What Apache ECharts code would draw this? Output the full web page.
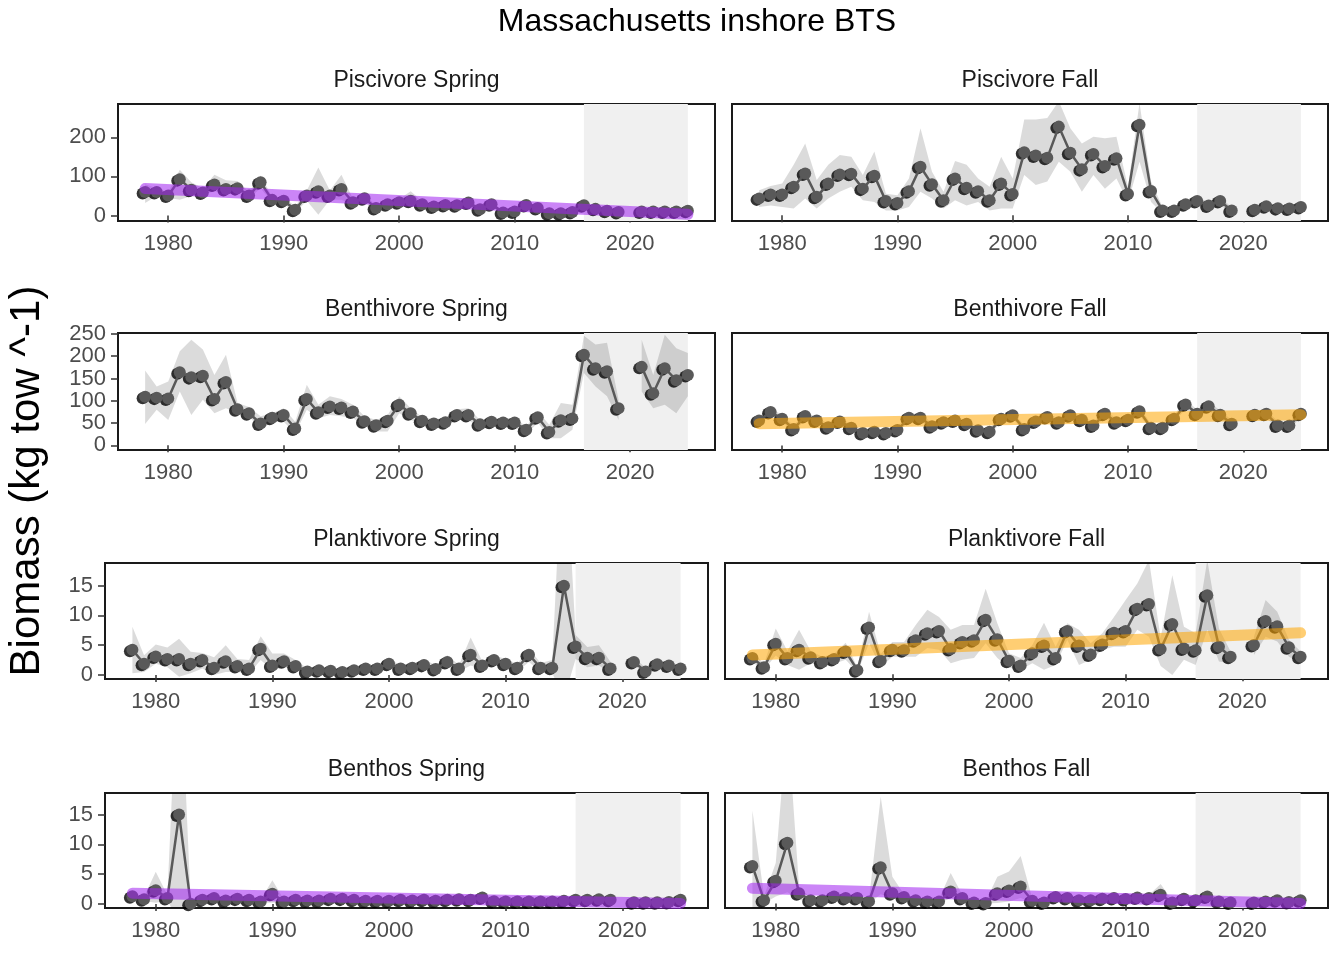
<!DOCTYPE html>
<html>
<head>
<meta charset="utf-8">
<title>Massachusetts inshore BTS</title>
<script src="https://cdn.jsdelivr.net/npm/echarts@6/dist/echarts.min.js"></script>
<style>
  html, body { margin: 0; padding: 0; background: #fff; }
  #chart { width: 1344px; height: 960px; }
</style>
</head>
<body>
<div id="chart"></div>
<script>
// survey years (2020 has no survey)
const years = [1978, 1979, 1980, 1981, 1982, 1983, 1984, 1985, 1986, 1987, 1988, 1989,
  1990, 1991, 1992, 1993, 1994, 1995, 1996, 1997, 1998, 1999,
  2000, 2001, 2002, 2003, 2004, 2005, 2006, 2007, 2008, 2009,
  2010, 2011, 2012, 2013, 2014, 2015, 2016, 2017, 2018, 2019,
  2020, 2021, 2022, 2023, 2024, 2025];
const xTickYears = [1980, 1990, 2000, 2010, 2020];
const shadeYears = [2016, 2025];
const trendYears = [1978, 2025];

// Piscivore Spring
const pisSprVal = [60, 60, 51, 93, 66, 59, 79, 68, 70, 51, 85, 40,
  38, 15, 51, 62, 51, 68, 34, 44, 19, 29,
  34, 38, 29, 23, 27, 26, 33, 16, 29, 8,
  10, 27, 19, 6, 6, 9, 26, 17, 12, 9,
  null, 10, 10, 10, 10, 12];
const pisSprLo = [32, 50, 45, 40, 50, 52, 62, 55, 57, 44, 70, 33,
  30, 8, 38, 2, 40, 40, 27, 36, 13, 22,
  27, 22, 22, 17, 21, 20, 26, 11, 22, 4,
  6, 20, 13, 3, 3, 5, 19, 12, 8, 5,
  null, 6, 6, 6, 6, 8];
const pisSprHi = [80, 70, 60, 117, 85, 70, 104, 90, 88, 60, 102, 48,
  46, 24, 64, 123, 64, 104, 42, 53, 26, 36,
  42, 62, 36, 30, 33, 32, 40, 22, 36, 12,
  15, 34, 25, 10, 10, 13, 33, 23, 17, 13,
  null, 14, 14, 14, 14, 17];
const pisSprTrend = [69, 3];

// Piscivore Fall
const pisFalVal = [43, 53, 53, 73, 107, 47, 81, 104, 106, 68, 101, 36,
  31, 61, 124, 79, 38, 94, 70, 61, 38, 81,
  54, 161, 153, 147, 227, 160, 118, 157, 126, 146,
  54, 232, 62, 12, 12, 28, 36, 25, 36, 12,
  null, 14, 23, 18, 17, 21];
const pisFalLo = [21, 25, 21, 17, 43, 17, 43, 60, 73, 38, 34, 12,
  12, 21, 60, 43, 17, 38, 25, 34, 12, 17,
  17, 103, 77, 86, 137, 111, 60, 103, 68, 94,
  34, 137, 34, 4, 4, 18, 26, 16, 26, 4,
  null, 6, 14, 10, 9, 12];
const pisFalHi = [64, 75, 81, 129, 184, 90, 129, 154, 150, 103, 163, 55,
  51, 94, 223, 111, 60, 139, 129, 94, 73, 150,
  94, 245, 245, 249, 292, 223, 184, 201, 197, 201,
  73, 288, 86, 21, 20, 38, 46, 34, 46, 20,
  null, 22, 32, 26, 25, 30];

// Benthivore Spring
const benSprVal = [109, 107, 105, 164, 153, 156, 104, 142, 81, 72, 49, 62,
  68, 38, 104, 74, 87, 85, 76, 54, 45, 55,
  91, 72, 55, 49, 52, 68, 68, 47, 53, 51,
  51, 35, 63, 30, 56, 60, 203, 173, 166, 83,
  null, 176, 117, 173, 146, 158];
const benSprLo = [48, 80, 57, 121, 68, 102, 72, 83, 72, 65, 35, 53,
  53, 27, 80, 61, 68, 65, 61, 44, 31, 31,
  72, 57, 46, 38, 42, 57, 57, 38, 44, 42,
  41, 23, 51, 16, 16, 35, 162, 132, 110, 57,
  null, 121, 83, 91, 72, 110];
const benSprHi = [168, 132, 143, 211, 237, 215, 158, 203, 95, 86, 65, 72,
  83, 53, 136, 91, 110, 104, 91, 65, 57, 68,
  110, 83, 63, 59, 61, 81, 83, 57, 61, 60,
  62, 42, 76, 46, 95, 91, 246, 226, 230, 102,
  null, 237, 158, 248, 218, 207];

// Benthivore Fall
const benFalVal = [56, 75, 60, 37, 66, 56, 41, 54, 40, 28, 31, 28,
  35, 62, 62, 43, 52, 56, 49, 34, 31, 60,
  68, 37, 54, 64, 52, 68, 58, 45, 71, 52,
  58, 77, 40, 40, 60, 92, 71, 88, 69, 49,
  null, 69, 71, 45, 45, 71];
const benFalLo = [48, 66, 52, 30, 58, 48, 34, 46, 33, 21, 24, 21,
  28, 54, 54, 36, 44, 48, 42, 27, 24, 52,
  60, 30, 46, 56, 44, 60, 50, 38, 63, 44,
  50, 68, 33, 33, 52, 82, 62, 78, 60, 42,
  null, 60, 62, 37, 37, 62];
const benFalHi = [65, 85, 68, 45, 75, 64, 49, 62, 48, 35, 38, 35,
  43, 71, 71, 51, 60, 64, 57, 41, 38, 68,
  77, 45, 62, 73, 60, 77, 66, 53, 80, 60,
  66, 87, 48, 48, 68, 103, 80, 99, 78, 57,
  null, 78, 80, 53, 53, 80];
const benFalTrend = [49, 69];

// Planktivore Spring
const plkSprVal = [4.25, 1.9, 3.1, 2.7, 2.7, 1.9, 2.5, 1.2, 2.3, 1.5, 1.1, 4.4,
  1.6, 2.3, 1.5, 0.6, 0.8, 0.7, 0.5, 0.8, 1.1, 1.1,
  1.9, 1.1, 1.2, 1.7, 1.0, 2.2, 1.1, 3.4, 1.6, 2.5,
  1.9, 1.2, 3.4, 1.2, 1.2, 15.0, 4.8, 2.9, 2.9, 1.1,
  null, 2.2, 0.6, 1.8, 1.6, 1.1];
const plkSprLo = [0.3, 0.5, 1.9, 1.3, -0.3, 0.3, 1.1, 0.0, 0.5, 0.5, 0.2, 2.5,
  0.8, 1.3, 0.8, 0.2, 0.4, 0.4, 0.2, 0.4, 0.7, 0.7,
  1.1, 0.6, 0.7, 0.8, 0.5, 1.3, 0.6, 1.6, 1.0, 1.6,
  1.2, 0.6, 2.2, 0.5, 0.3, -4, 2.7, 1.3, 1.6, 0.3,
  null, 1.6, 0.2, 1.2, 1.0, 0.6];
const plkSprHi = [8.1, 3.3, 5.1, 4.6, 6.1, 3.9, 3.7, 3.0, 5.0, 2.7, 2.5, 6.5,
  3.6, 3.6, 2.5, 1.1, 1.3, 1.1, 0.9, 1.3, 1.6, 1.6,
  2.7, 1.7, 1.8, 2.7, 1.6, 3.3, 1.7, 6.3, 2.3, 3.3,
  2.7, 1.9, 4.4, 2.0, 2.5, 43, 6.7, 4.7, 5.0, 2.2,
  null, 3.0, 1.2, 2.5, 2.2, 1.6];

// Planktivore Fall
const plkFalVal = [2.8, 1.2, 5.2, 2.8, 4.2, 2.9, 2.1, 2.6, 3.9, 0.7, 8.0, 2.3,
  4.2, 4.1, 5.8, 7.0, 7.4, 4.3, 5.5, 5.8, 9.3, 6.0,
  2.3, 1.5, 3.6, 4.9, 2.8, 7.4, 4.9, 3.4, 5.1, 7.1,
  7.4, 11.2, 12.0, 4.3, 8.6, 4.4, 4.1, 13.5, 4.7, 3.0,
  null, 5.0, 9.1, 8.2, 4.6, 3.0];
const plkFalLo = [2.0, 0.8, 3.2, 1.6, 0.8, 1.9, 1.3, 1.8, 2.5, 0.3, 5.3, 1.2,
  3.0, 3.0, 3.0, 4.5, 4.2, 1.9, 2.5, 2.8, 5.3, 2.8,
  1.1, 0.8, 1.9, 0.8, 1.6, 5.9, 1.6, 2.5, 4.2, 4.7,
  4.7, 7.6, 6.4, 1.4, -0.1, 2.5, 1.6, 7.6, 2.2, 1.9,
  null, 3.3, 6.4, 5.6, 3.0, 1.9];
const plkFalHi = [3.8, 1.8, 7.8, 4.0, 7.6, 4.0, 3.0, 3.5, 5.4, 1.2, 10.7, 3.5,
  5.5, 5.5, 8.4, 11.0, 9.8, 7.6, 8.4, 8.4, 14.6, 8.7,
  3.6, 2.8, 5.0, 8.8, 4.7, 8.7, 7.6, 5.3, 7.0, 9.8,
  12.7, 15.5, 19.5, 6.2, 16.9, 8.1, 7.0, 19.5, 7.8, 3.9,
  null, 6.4, 12.7, 10.7, 5.9, 3.9];
const plkFalTrend = [3.3, 7.1];

// Benthos Spring
const bnsSprVal = [1.3, 0.8, 2.3, 1.0, 15.0, 0.05, 0.7, 1.0, 0.6, 0.9, 0.7, 0.4,
  1.7, 0.4, 0.7, 0.6, 0.6, 0.9, 0.9, 0.7, 0.55, 0.55,
  0.55, 0.7, 0.6, 0.7, 0.55, 0.7, 0.8, 0.7, 1.1, 0.45,
  0.4, 0.4, 0.4, 0.4, 0.4, 0.55, 0.7, 0.7, 0.8, 0.7,
  null, 0.3, 0.3, 0.3, 0.35, 0.7];
const bnsSprLo = [0.9, 0.5, 0.2, 0.6, -3, 0.0, 0.4, 0.7, 0.4, 0.6, 0.4, 0.2,
  0.2, 0.2, 0.4, 0.4, 0.4, 0.6, 0.6, 0.4, 0.3, 0.3,
  0.3, 0.4, 0.4, 0.4, 0.3, 0.4, 0.5, 0.4, 0.45, 0.25,
  0.2, 0.2, 0.2, 0.2, 0.2, 0.3, 0.4, 0.4, 0.5, 0.4,
  null, 0.1, 0.1, 0.1, 0.15, 0.4];
const bnsSprHi = [1.8, 1.2, 5.4, 1.5, 45, 0.2, 1.0, 1.4, 0.9, 1.3, 1.0, 0.7,
  4.0, 0.7, 1.0, 0.9, 0.9, 1.3, 1.3, 1.0, 0.8, 0.8,
  0.8, 1.0, 0.9, 1.0, 0.8, 1.0, 1.2, 1.0, 2.1, 0.7,
  0.6, 0.6, 0.6, 0.6, 0.6, 0.8, 1.0, 1.0, 1.2, 1.0,
  null, 0.5, 0.5, 0.5, 0.6, 1.0];
const bnsSprTrend = [1.8, 0.1];

// Benthos Fall
const bnsFalVal = [4.07, 0.33, 2.45, 6.6, 1.1, 0.33, 0.33, 0.76, 0.58, 0.58, 0.22, 3.93,
  1.1, 0.69, 0.33, 0.22, 0.22, 1.3, 0.58, 0.11, 0.04, 1.1,
  1.4, 1.84, 0.29, 0.11, 0.69, 0.58, 0.33, 0.33, 0.51, 0.58,
  0.47, 0.65, 0.58, 0.94, 0.11, 0.51, 0.33, 0.76, 0.22, 0.11,
  null, 0.11, 0.22, 0.33, 0.15, 0.33];
const bnsFalLo = [-2, 0.0, 0.76, 1.2, 0.4, 0.1, 0.1, 0.4, 0.3, 0.3, 0.0, 1.0,
  0.58, 0.4, 0.1, 0.0, 0.0, 0.58, 0.3, 0.0, 0.0, 0.04,
  0.22, 0.58, 0.1, 0.0, 0.4, 0.3, 0.1, 0.1, 0.3, 0.3,
  0.25, 0.4, 0.3, 0.4, 0.0, 0.3, 0.1, 0.4, 0.0, 0.0,
  null, 0.0, 0.05, 0.1, 0.0, 0.1];
const bnsFalHi = [10.1, 0.8, 4.4, 20, 1.8, 0.6, 0.6, 1.2, 0.9, 0.9, 0.5, 11.6,
  2.9, 1.0, 0.6, 0.5, 0.5, 3.3, 0.9, 0.3, 0.2, 2.9,
  3.46, 5.15, 0.5, 0.3, 1.0, 0.9, 0.6, 0.6, 0.8, 0.8,
  0.7, 0.9, 0.9, 2.1, 0.3, 0.8, 0.6, 1.2, 0.5, 0.3,
  null, 0.3, 0.4, 0.6, 0.35, 0.6];
const bnsFalTrend = [1.66, 0.0];

const purple = 'rgba(160,32,240,0.55)';
const orange = 'rgba(255,165,0,0.55)';

// panel layout: [left, top, width, height] in px
const panels = [
  { title: 'Piscivore Spring', val: pisSprVal, lo: pisSprLo, hi: pisSprHi, trend: pisSprTrend, tcol: purple,
    yMin: -14, yMax: 285, yTicks: [0, 100, 200], box: [118, 104, 597, 117] },
  { title: 'Piscivore Fall', val: pisFalVal, lo: pisFalLo, hi: pisFalHi, trend: null,
    yMin: -15, yMax: 285, yTicks: null, box: [732, 104, 596, 117] },
  { title: 'Benthivore Spring', val: benSprVal, lo: benSprLo, hi: benSprHi, trend: null,
    yMin: -10.5, yMax: 252, yTicks: [0, 50, 100, 150, 200, 250], box: [118, 333, 597, 117] },
  { title: 'Benthivore Fall', val: benFalVal, lo: benFalLo, hi: benFalHi, trend: benFalTrend, tcol: orange,
    yMin: -10, yMax: 252, yTicks: null, box: [732, 333, 596, 117] },
  { title: 'Planktivore Spring', val: plkSprVal, lo: plkSprLo, hi: plkSprHi, trend: null,
    yMin: -0.67, yMax: 18.8, yTicks: [0, 5, 10, 15], box: [105, 563, 603, 116] },
  { title: 'Planktivore Fall', val: plkFalVal, lo: plkFalLo, hi: plkFalHi, trend: plkFalTrend, tcol: orange,
    yMin: -0.8, yMax: 19, yTicks: null, box: [725, 563, 603, 116] },
  { title: 'Benthos Spring', val: bnsSprVal, lo: bnsSprLo, hi: bnsSprHi, trend: bnsSprTrend, tcol: purple,
    yMin: -0.67, yMax: 18.6, yTicks: [0, 5, 10, 15], box: [105, 793, 603, 115] },
  { title: 'Benthos Fall', val: bnsFalVal, lo: bnsFalLo, hi: bnsFalHi, trend: bnsFalTrend, tcol: purple,
    yMin: -0.5, yMax: 12, yTicks: null, box: [725, 793, 603, 115] }
];

const xMin = 1975.65, xMax = 2027.35;
const FONT = 'Liberation Sans';

// split the years into runs without gaps: [startIndex, endIndex]
function runsOf(arr) {
  const runs = [];
  let start = -1;
  arr.forEach((v, k) => {
    if (v != null && start < 0) start = k;
    if ((v == null || k === arr.length - 1) && start >= 0) {
      runs.push([start, v == null ? k - 1 : k]);
      start = -1;
    }
  });
  return runs;
}

const option = {
  animation: false,
  backgroundColor: '#fff',
  textStyle: { fontFamily: FONT },
  grid: [], xAxis: [], yAxis: [], series: [],
  graphic: [
    { type: 'text', x: 697, y: 22, z: 10,
      style: { text: 'Massachusetts inshore BTS', fontSize: 32, fontFamily: FONT, fill: '#000', align: 'center', verticalAlign: 'middle' } },
    { type: 'text', x: 27, y: 481, rotation: Math.PI / 2, z: 10,
      style: { text: 'Biomass (kg tow ^-1)', fontSize: 42, fontFamily: FONT, fill: '#000', align: 'center', verticalAlign: 'middle' } }
  ]
};

panels.forEach((p, i) => {
  const [l, t, w, h] = p.box;
  option.grid.push({ left: l, top: t, width: w, height: h, show: true,
    borderColor: '#1A1A1A', borderWidth: 2, backgroundColor: '#fff' });
  option.graphic.push({ type: 'text', x: l + w / 2, y: t - 23, z: 10,
    style: { text: p.title, fontSize: 23, fontFamily: FONT, fill: '#1A1A1A', align: 'center', verticalAlign: 'middle' } });

  option.xAxis.push({
    gridIndex: i, type: 'value', min: xMin, max: xMax,
    axisLine: { show: false }, splitLine: { show: false },
    axisTick: { show: true, customValues: xTickYears, length: 7, lineStyle: { color: '#333', width: 1.5 } },
    axisLabel: { customValues: xTickYears, color: '#4D4D4D', fontSize: 22, margin: 12,
      formatter: v => String(v) }
  });
  const yAx = {
    gridIndex: i, type: 'value', min: p.yMin, max: p.yMax,
    axisLine: { show: false }, splitLine: { show: false }
  };
  if (p.yTicks) {
    yAx.axisTick = { show: true, customValues: p.yTicks, length: 7, lineStyle: { color: '#333', width: 1.5 } };
    yAx.axisLabel = { customValues: p.yTicks, color: '#4D4D4D', fontSize: 22, margin: 12,
      formatter: v => String(v) };
  } else {
    yAx.axisTick = { show: false };
    yAx.axisLabel = { show: false };
  }
  option.yAxis.push(yAx);

  // confidence ribbon, one polygon per unbroken run of years
  option.series.push({
    type: 'custom', xAxisIndex: i, yAxisIndex: i, z: 2, clip: true, silent: true,
    data: runsOf(p.lo),
    renderItem: (params, api) => {
      const a = api.value(0), b = api.value(1);
      const pts = [];
      for (let k = a; k <= b; k++) pts.push(api.coord([years[k], p.lo[k]]));
      for (let k = b; k >= a; k--) pts.push(api.coord([years[k], p.hi[k]]));
      return { type: 'polygon', shape: { points: pts },
        style: { fill: 'rgba(0,0,0,0.14)', stroke: null } };
    },
    markArea: { silent: true, itemStyle: { color: '#F0F0F0' },
      data: [[{ xAxis: shadeYears[0] }, { xAxis: shadeYears[1] }]] }
  });
  // observed points (black) under the grey line
  option.series.push({
    type: 'scatter', xAxisIndex: i, yAxisIndex: i, z: 3,
    data: years.map((y, k) => [y, p.val[k]]).filter(d => d[1] != null),
    symbolSize: 12, symbolOffset: [-2.5, 1.5], itemStyle: { color: '#000' }, silent: true
  });
  option.series.push({
    type: 'line', xAxisIndex: i, yAxisIndex: i, z: 4,
    data: years.map((y, k) => [y, p.val[k]]),
    symbol: 'circle', symbolSize: 12, showAllSymbol: true,
    itemStyle: { color: '#595959' }, lineStyle: { color: '#595959', width: 2.5 }, silent: true
  });
  if (p.trend) {
    option.series.push({
      type: 'line', xAxisIndex: i, yAxisIndex: i, z: 5,
      data: [[trendYears[0], p.trend[0]], [trendYears[1], p.trend[1]]],
      symbol: 'none', lineStyle: { color: p.tcol, width: 11, cap: 'round' }, silent: true
    });
  }
});

const chart = echarts.init(document.getElementById('chart'));
chart.setOption(option);
</script>
</body>
</html>
